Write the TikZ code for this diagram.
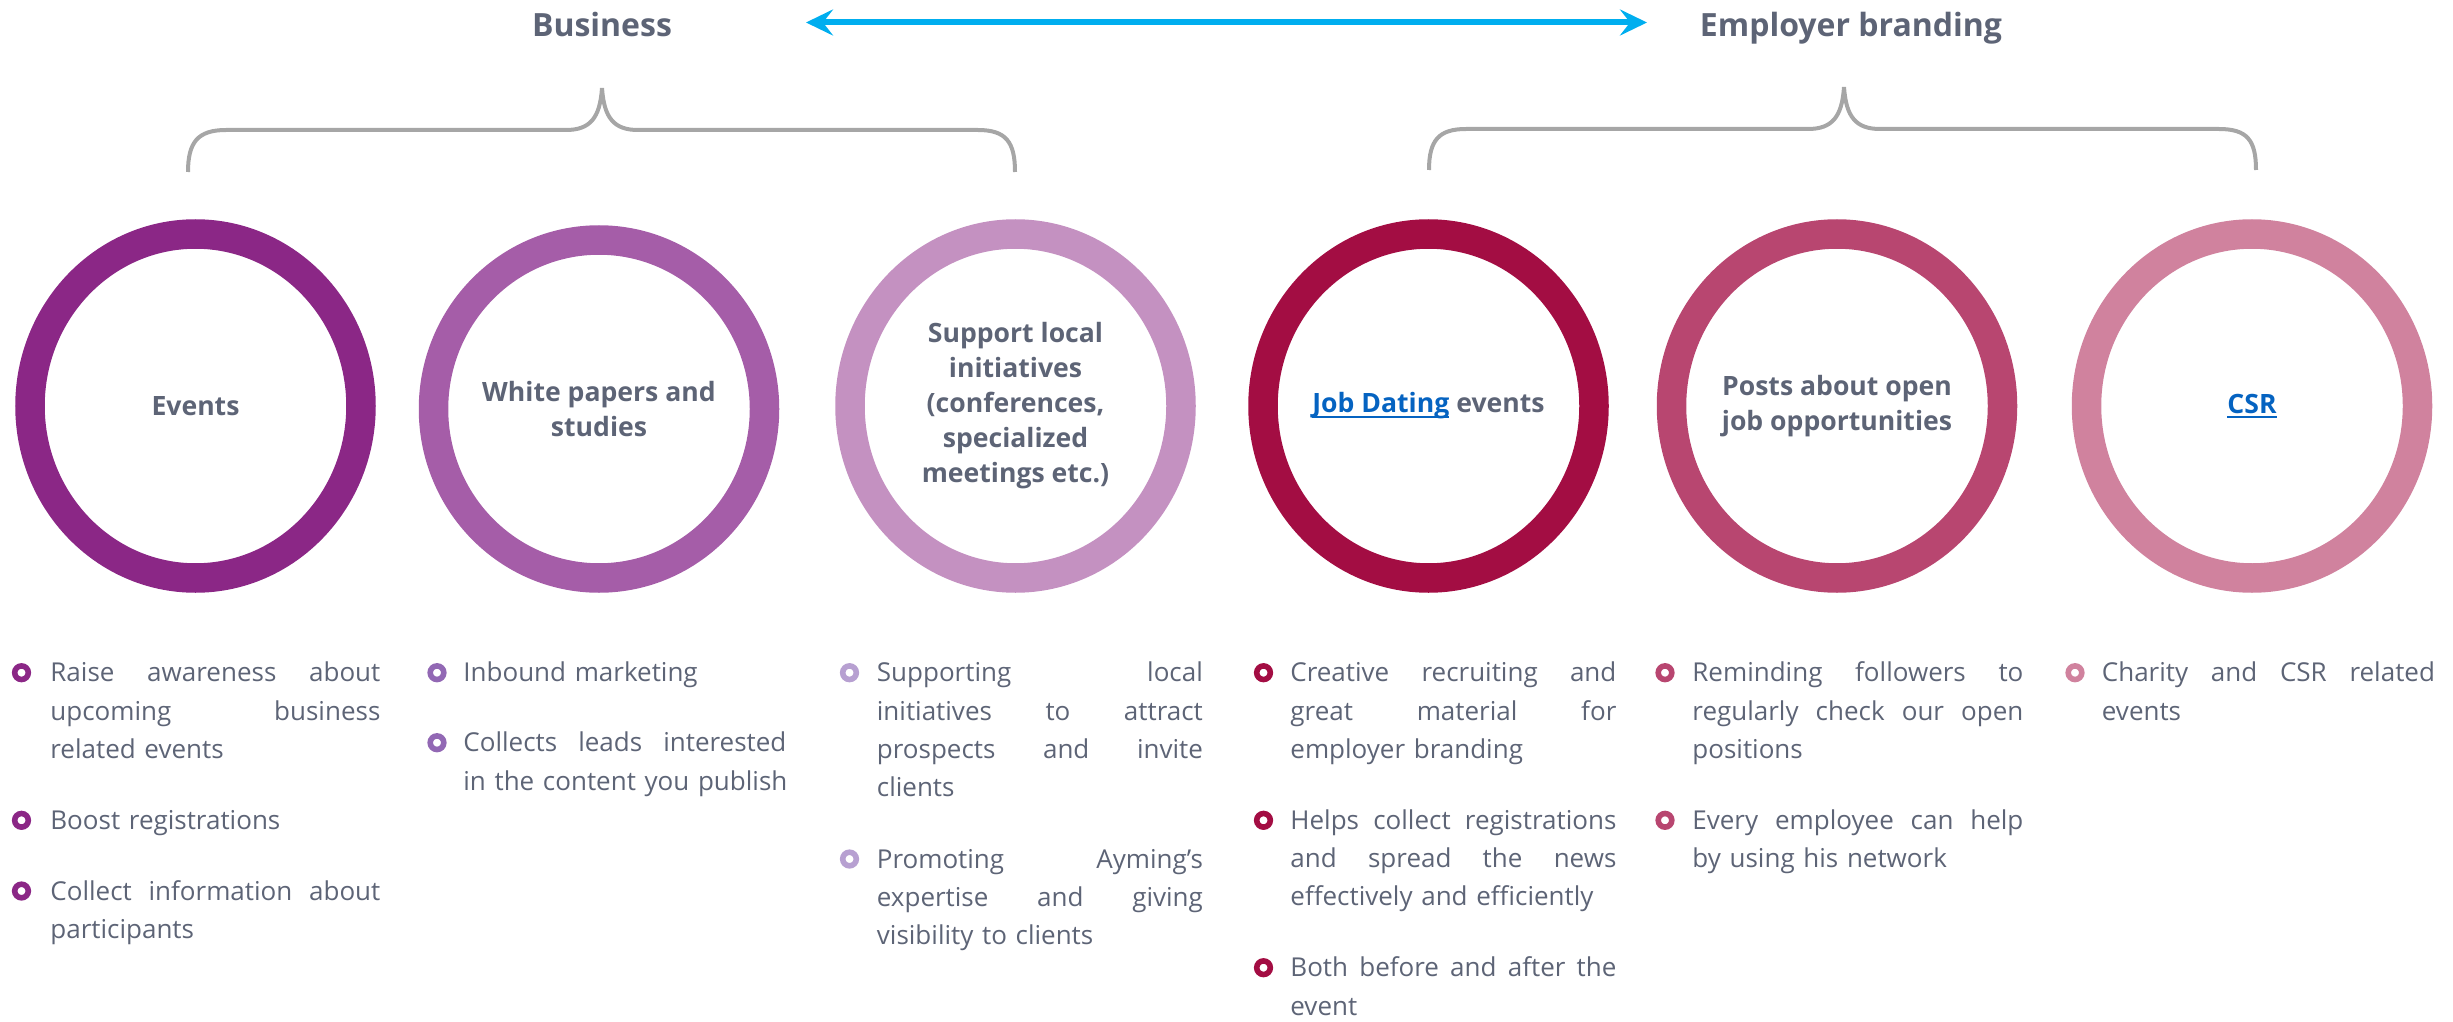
\documentclass[tikz,border=0pt]{standalone}
\usepackage{fontspec}
\setmainfont{Open Sans}
\usetikzlibrary{shapes.geometric,arrows.meta}

\definecolor{ringA}{HTML}{8B2786}
\definecolor{ringB}{HTML}{A55DA8}
\definecolor{ringC}{HTML}{C491C1}
\definecolor{ringD}{HTML}{A30D43}
\definecolor{ringE}{HTML}{B84670}
\definecolor{ringF}{HTML}{D0829E}
\definecolor{dotB}{HTML}{9268B4}
\definecolor{dotC}{HTML}{B7A0D1}
\definecolor{txtgray}{HTML}{5D6476}
\definecolor{bracegray}{HTML}{A6A6A6}
\definecolor{arrowblue}{HTML}{00AEEF}
\definecolor{linkblue}{HTML}{0563C1}

\setlength\parindent{0pt}
% a line whose word spaces stretch to the full column width
\newcommand\J[1]{\leavevmode\hbox to\hsize{\spaceskip=.26em plus 1fil\relax#1}}
% a last line, kept whole
\newcommand\E[1]{\mbox{#1}}
% underlined link-style text
\newcommand\lnk[1]{{\color{linkblue}\setbox0\hbox{#1}\rlap{\rule[-2.6pt]{\wd0}{1.1pt}}\box0}}

\tikzset{
  ring/.style={ellipse, draw=#1, line width=14.75pt, minimum width=165.5pt,
    minimum height=172pt, inner sep=0pt, align=center, text=txtgray,
    font=\fontsize{13.3}{17.5}\selectfont\bfseries},
  head/.style={anchor=base, text=txtgray, inner sep=0pt,
    font=\fontsize{16}{20}\selectfont\bfseries},
  item/.style={anchor=base west, inner sep=0pt, align=left, text=txtgray,
    font=\fontsize{13}{19.17}\selectfont},
  dot/.style={circle, draw=#1, line width=2.8pt, minimum size=6.8pt, inner sep=0pt},
  brace/.style={draw=bracegray, line width=2pt},
  link arrow/.style={draw=arrowblue, line width=3pt,
    {Stealth[length=13.5pt,width=13pt,inset=5pt]}-{Stealth[length=13.5pt,width=13pt,inset=5pt]}}
}

\begin{document}
\begin{tikzpicture}[x=0.5pt,y=-0.5pt]
\useasboundingbox (0,0) rectangle (2453,1022);

% headings and the two-way arrow
\node[head] (business) at (602,36.7) {Business};
\node[head] (employer) at (1851,36.7) {Employer branding};
\coordinate (arrL) at (806,22.5);
\coordinate (arrR) at (1647,22.5);
\draw[link arrow] (arrL) -- (arrR);

% braces
\draw[brace] (188,172) .. controls (188,142) and (198,130) .. (226,130)
  -- (566,130) .. controls (590,130) and (600,118) .. (602,88)
  .. controls (604,118) and (614,130) .. (638,130)
  -- (978,130) .. controls (1006,130) and (1015,142) .. (1015,172);
\draw[brace] (1429,170) .. controls (1429,140) and (1439,129) .. (1466,129)
  -- (1808,129) .. controls (1832,129) and (1842,117) .. (1844,87)
  .. controls (1846,117) and (1856,129) .. (1880,129)
  -- (2219,129) .. controls (2247,129) and (2256,140) .. (2256,170);

% rings
\node[ring=ringA] (events) at (195.5,406) {Events};
\node[ring=ringB, minimum height=169pt] (papers) at (599,409) {White papers and\\studies};
\node[ring=ringC] (local) at (1015.5,406) {Support local\\initiatives\\(conferences,\\specialized\\meetings etc.)};
\node[ring=ringD] (dating) at (1428.5,406) {\lnk{Job Dating} events};
\node[ring=ringE] (posts) at (1837,406) {Posts about open\\job opportunities};
\node[ring=ringF] (csr) at (2252,406) {\lnk{CSR}};

% column 1
\node[dot=ringA] (d1a) at (21.5,672.7) {};
\node[item, text width=165pt] (t1a) at (50,681.7) {\J{Raise awareness about}\\\J{upcoming business}\\\E{related events}};
\node[dot=ringA] (d1b) at (21.5,820.3) {};
\node[item, text width=165pt] (t1b) at (50,829.3) {\E{Boost registrations}};
\node[dot=ringA] (d1c) at (21.5,891) {};
\node[item, text width=165pt] (t1c) at (50,900) {\J{Collect information about}\\\E{participants}};

% column 2
\node[dot=dotB] (d2a) at (437,672.7) {};
\node[item, text width=161.5pt] (t2a) at (463,681.7) {\E{Inbound marketing}};
\node[dot=dotB] (d2b) at (437,742.7) {};
\node[item, text width=161.5pt] (t2b) at (463,751.7) {\J{Collects leads interested}\\\E{in the content you publish}};

% column 3
\node[dot=dotC] (d3a) at (849.5,672.7) {};
\node[item, text width=163pt] (t3a) at (876.5,681.7) {\J{Supporting local}\\\J{initiatives to attract}\\\J{prospects and invite}\\\E{clients}};
\node[dot=dotC] (d3b) at (849.5,859) {};
\node[item, text width=163pt] (t3b) at (876.5,868) {\J{Promoting Ayming’s}\\\J{expertise and giving}\\\E{visibility to clients}};

% column 4
\node[dot=ringD] (d4a) at (1263.5,672.7) {};
\node[item, text width=163pt] (t4a) at (1290,681.7) {\J{Creative recruiting and}\\\J{great material for}\\\E{employer branding}};
\node[dot=ringD] (d4b) at (1263.5,820.3) {};
\node[item, text width=163pt] (t4b) at (1290,829.3) {\J{Helps collect registrations}\\\J{and spread the news}\\\E{effectively and efficiently}};
\node[dot=ringD] (d4c) at (1263.5,967.7) {};
\node[item, text width=163pt] (t4c) at (1290,976.7) {\J{Both before and after the}\\\E{event}};

% column 5
\node[dot=ringE] (d5a) at (1665,672.7) {};
\node[item, text width=165.5pt] (t5a) at (1692,681.7) {\J{Reminding followers to}\\\J{regularly check our open}\\\E{positions}};
\node[dot=ringE] (d5b) at (1665,820.3) {};
\node[item, text width=165.5pt] (t5b) at (1692,829.3) {\J{Every employee can help}\\\E{by using his network}};

% column 6
\node[dot=ringF] (d6a) at (2075,672.7) {};
\node[item, text width=166.5pt] (t6a) at (2101.5,681.7) {\J{Charity and CSR related}\\\E{events}};
\end{tikzpicture}
\end{document}
